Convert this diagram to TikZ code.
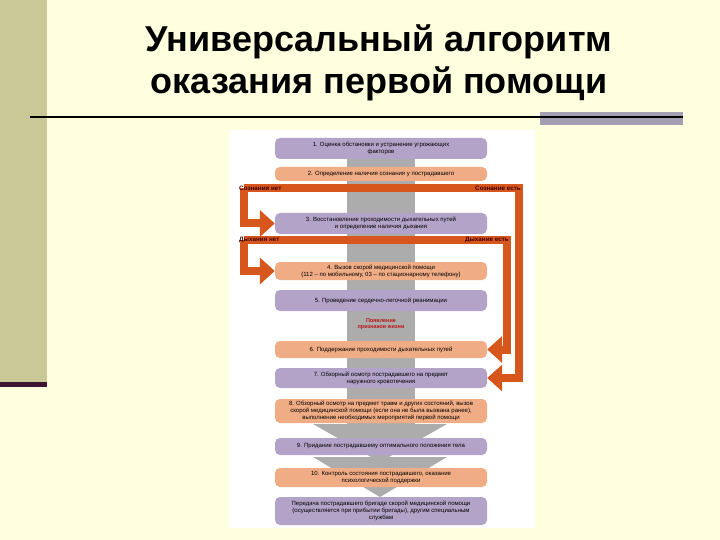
\documentclass[tikz,border=0pt]{standalone}
\usepackage{fontspec}
\setmainfont{Liberation Sans}
\usetikzlibrary{arrows.meta}

\definecolor{paper}{RGB}{255,255,224}
\definecolor{khaki}{RGB}{202,200,150}
\definecolor{plum}{RGB}{62,22,52}
\definecolor{barlav}{RGB}{163,158,178}
\definecolor{vio}{RGB}{180,163,200}
\definecolor{peach}{RGB}{240,172,132}
\definecolor{band}{RGB}{172,172,172}
\definecolor{rust}{RGB}{214,86,28}
\definecolor{wine}{RGB}{190,20,20}

\tikzset{
  stepbox/.style={rounded corners=5pt, minimum width=212pt, inner sep=1pt,
    align=center, font=\fontsize{6}{7}\selectfont},
  branch/.style={draw=rust, line width=8pt, -{Triangle[length=15pt,width=26pt]}},
  bartext/.style={font=\fontsize{6.3}{7}\selectfont\bfseries, text=black!75!red, inner sep=1pt},
}

\begin{document}
\begin{tikzpicture}[x=1pt,y=-1pt]
\useasboundingbox (0,0) rectangle (720,540);
\fill[paper] (0,0) rectangle (720,540);
% left strip and rule
\fill[khaki] (0,0) rectangle (47,382);
\fill[plum] (0,382) rectangle (47,387);
\fill[barlav] (540,112) rectangle (683,125);
\draw[line width=2.5pt] (30,117) -- (683,117);

% title
\node[font=\fontsize{36}{42}\selectfont\bfseries, align=center, anchor=north]
  (ttl) at (379,21) {Универсальный алгоритм\\оказания первой помощи};

% scheme
\fill[white] (229,130) rectangle (535,528);
\fill[band] (347,138) rectangle (415,430);
\fill[band] (313,424) -- (447,424) -- (380,462) -- cycle;
\fill[band] (313,457) -- (447,457) -- (380,497) -- cycle;

\foreach \n/\y/\h/\c/\t in {
  1/148.5/21/vio/{1. Оценка обстановки и устранение угрожающих\\факторов},
  2/174/14/peach/{2. Определение наличия сознания у пострадавшего},
  3/223.5/21/vio/{3. Восстановление проходимости дыхательных путей\\и определение наличия дыхания},
  4/271/18/peach/{4. Вызов скорой медицинской помощи\\(112 – по мобильному, 03 – по стационарному телефону)},
  5/300.5/21/vio/{5. Проведение сердечно-легочной реанимации},
  6/349.5/17/peach/{6. Поддержание проходимости дыхательных путей},
  7/378/20/vio/{7. Обзорный осмотр пострадавшего на предмет\\наружного кровотечения},
  8/411/24/peach/{8. Обзорный осмотр на предмет травм и других состояний, вызов\\скорой медицинской помощи (если она не была вызвана ранее),\\выполнение необходимых мероприятий первой помощи},
  9/446.5/17/vio/{9. Придание пострадавшему оптимального положения тела},
  10/477.5/19/peach/{10. Контроль состояния пострадавшего, оказание\\психологической поддержки},
  11/511/28/vio/{Передача пострадавшего бригаде скорой медицинской помощи\\(осуществляется при прибытии бригады), другим специальным\\службам}}
  \node[stepbox, fill=\c, minimum height=\h pt] (b\n) at (381,\y) {\t};

\node[font=\fontsize{5.5}{6.5}\selectfont\bfseries, text=wine, align=center]
  (life) at (381,324) {Появление\\признаков жизни};

% branches
\coordinate (c1l) at (244,188);
\coordinate (c1r) at (519,188);
\coordinate (c2l) at (244,240);
\coordinate (c2r) at (507,240);
\draw[branch] (c1l) |- (b3.west);
\draw[branch] (c1l) -- (c1r) |- (b7.east);
\draw[branch] (c2l) |- (b4.west);
\draw[branch] (c2l) -- (c2r) |- (b6.east);

\node[bartext, anchor=west] (nocon) at (238,188) {Сознания нет};
\node[bartext, anchor=east] (con) at (522,188) {Сознание есть};
\node[bartext, anchor=west] (nobr) at (238,240) {Дыхания нет};
\node[bartext, anchor=east] (br) at (510,240) {Дыхание есть};
\end{tikzpicture}
\end{document}
